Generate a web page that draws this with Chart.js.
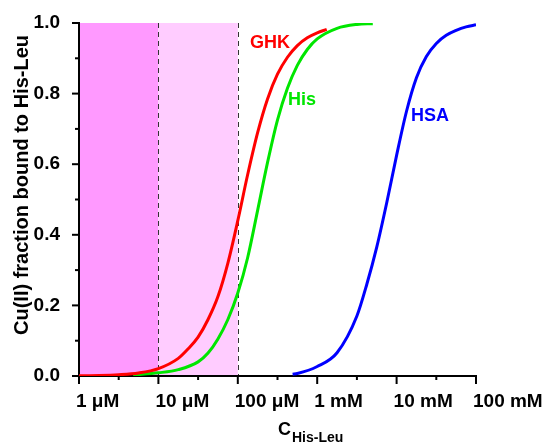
<!DOCTYPE html>
<html>
<head>
<meta charset="utf-8">
<script src="https://cdn.jsdelivr.net/npm/chart.js@4"></script>
<style>
  html, body { margin: 0; padding: 0; background: #fff; }
  #wrap { width: 548px; height: 442px; }
</style>
</head>
<body>
<div id="wrap"><canvas id="chart" width="548" height="442"></canvas></div>
<script>
// concentrations in µM, fraction of Cu(II) bound to His-Leu
const ghkConc = [1, 1.78, 3.16, 5.62, 10, 17.8, 23.7, 31.6, 42.2, 56.2, 75, 100, 133, 178, 237, 316, 422, 562, 750, 1000, 1318];
const ghkFrac = [0.0005, 0.0013, 0.0035, 0.0085, 0.021, 0.05, 0.077, 0.11, 0.16, 0.225, 0.32, 0.44, 0.57, 0.69, 0.785, 0.855, 0.903, 0.936, 0.958, 0.972, 0.982];

const hisConc = [4.8, 5.62, 10, 17.8, 31.6, 42.2, 56.2, 75, 100, 133, 178, 237, 316, 422, 562, 750, 1000, 1778, 3162, 5012];
const hisFrac = [0.003, 0.004, 0.009, 0.018, 0.040, 0.065, 0.105, 0.16, 0.235, 0.335, 0.47, 0.605, 0.725, 0.815, 0.88, 0.925, 0.955, 0.985, 0.996, 0.998];

const hsaConc = [490, 562, 1000, 1778, 3162, 4217, 5623, 7499, 10000, 13335, 17783, 23714, 31623, 42170, 56234, 74989, 100000];
const hsaFrac = [0.005, 0.007, 0.027, 0.066, 0.17, 0.26, 0.365, 0.49, 0.625, 0.75, 0.845, 0.905, 0.942, 0.965, 0.979, 0.989, 0.995];

// x tick values (µM) and their labels
const xTickValues = [1, 10, 100, 1000, 10000, 100000];
const xTickLabels = ['1 μM', '10 μM', '100 μM', '1 mM', '10 mM', '100 mM'];
const yTickValues = [0, 0.2, 0.4, 0.6, 0.8, 1.0];

const FONT = '"Liberation Sans", Arial, sans-serif';

function toPoints(xs, ys) {
  return xs.map((x, i) => ({ x: x, y: ys[i] }));
}

// shaded regions, dashed lines, tick marks, labels and axis titles
const decorations = {
  id: 'decorations',
  beforeDraw(chart) {
    const ctx = chart.ctx;
    const x = chart.scales.x;
    const area = chart.chartArea;
    ctx.save();
    ctx.fillStyle = '#ff99ff';
    ctx.fillRect(x.getPixelForValue(1), area.top, x.getPixelForValue(10) - x.getPixelForValue(1), area.bottom - area.top);
    ctx.fillStyle = '#ffccff';
    ctx.fillRect(x.getPixelForValue(10), area.top, x.getPixelForValue(100) - x.getPixelForValue(10), area.bottom - area.top);
    ctx.strokeStyle = '#333';
    ctx.lineWidth = 1;
    ctx.setLineDash([5, 4]);
    [10, 100].forEach(v => {
      const px = Math.round(x.getPixelForValue(v)) + 0.5;
      ctx.beginPath();
      ctx.moveTo(px, area.top);
      ctx.lineTo(px, area.bottom);
      ctx.stroke();
    });
    ctx.restore();
  },
  afterDraw(chart) {
    const ctx = chart.ctx;
    const x = chart.scales.x;
    const y = chart.scales.y;
    const area = chart.chartArea;
    ctx.save();
    ctx.strokeStyle = '#000';
    ctx.lineWidth = 2;
    // x ticks: decades long, half-decades short
    for (let k = 0; k <= 5; k++) {
      const px = x.getPixelForValue(Math.pow(10, k));
      ctx.beginPath(); ctx.moveTo(px, area.bottom); ctx.lineTo(px, area.bottom + 8); ctx.stroke();
      if (k < 5) {
        const pm = x.getPixelForValue(Math.pow(10, k + 0.5));
        ctx.beginPath(); ctx.moveTo(pm, area.bottom); ctx.lineTo(pm, area.bottom + 4); ctx.stroke();
      }
    }
    // y ticks
    for (let i = 0; i <= 10; i++) {
      const py = y.getPixelForValue(i / 10);
      const len = i % 2 === 0 ? 7 : 4;
      ctx.beginPath(); ctx.moveTo(area.left, py); ctx.lineTo(area.left - len, py); ctx.stroke();
    }

    // x tick labels, starting at the tick
    ctx.fillStyle = '#000';
    ctx.font = 'bold 19px ' + FONT;
    ctx.textAlign = 'left';
    ctx.textBaseline = 'alphabetic';
    xTickValues.forEach((v, i) => {
      ctx.fillText(xTickLabels[i], x.getPixelForValue(v) - 3, area.bottom + 31);
    });

    // curve labels
    ctx.font = 'bold 18px ' + FONT;
    ctx.textAlign = 'center';
    ctx.textBaseline = 'middle';
    ctx.fillStyle = '#ff0000';
    ctx.fillText('GHK', x.getPixelForValue(254), y.getPixelForValue(0.944));
    ctx.fillStyle = '#00e600';
    ctx.fillText('His', x.getPixelForValue(644), y.getPixelForValue(0.782));
    ctx.fillStyle = '#0000ff';
    ctx.fillText('HSA', x.getPixelForValue(26360), y.getPixelForValue(0.737));

    // axis titles
    ctx.fillStyle = '#000';
    ctx.save();
    ctx.translate(22, 185);
    ctx.rotate(-Math.PI / 2);
    ctx.font = 'bold 20px ' + FONT;
    ctx.fillText('Cu(II) fraction bound to His-Leu', 0, 0);
    ctx.restore();

    ctx.textAlign = 'left';
    ctx.textBaseline = 'alphabetic';
    ctx.font = 'bold 18px ' + FONT;
    const cw = ctx.measureText('C').width;
    ctx.fillText('C', 278, 435);
    ctx.font = 'bold 14px ' + FONT;
    ctx.fillText('His-Leu', 279 + cw, 442);
    ctx.restore();
  }
};

new Chart(document.getElementById('chart'), {
  type: 'line',
  data: {
    datasets: [
      { label: 'GHK', data: toPoints(ghkConc, ghkFrac), borderColor: '#ff0000' },
      { label: 'His', data: toPoints(hisConc, hisFrac), borderColor: '#00e600' },
      { label: 'HSA', data: toPoints(hsaConc, hsaFrac), borderColor: '#0000ff' }
    ]
  },
  options: {
    responsive: false,
    animation: false,
    events: [],
    layout: { padding: { left: 0, right: 72, top: 23, bottom: 0 } },
    elements: {
      point: { radius: 0 },
      line: { borderWidth: 3, cubicInterpolationMode: 'monotone', fill: false }
    },
    plugins: { legend: { display: false }, tooltip: { enabled: false } },
    scales: {
      x: {
        type: 'logarithmic',
        min: 1,
        max: 100000,
        grid: { display: false },
        border: { display: true, color: '#000', width: 2 },
        afterBuildTicks: (scale) => { scale.ticks = xTickValues.map(v => ({ value: v })); },
        afterFit: (scale) => { scale.height = 66; },
        ticks: { display: false }
      },
      y: {
        min: 0,
        max: 1,
        grid: { display: false },
        border: { display: true, color: '#000', width: 2 },
        afterBuildTicks: (scale) => { scale.ticks = yTickValues.map(v => ({ value: v })); },
        afterFit: (scale) => { scale.width = 79; },
        ticks: {
          padding: 11,
          color: '#000',
          font: { family: FONT, size: 19, weight: 'bold' },
          callback: (v) => v.toFixed(1)
        }
      }
    }
  },
  plugins: [decorations]
});
</script>
</body>
</html>
